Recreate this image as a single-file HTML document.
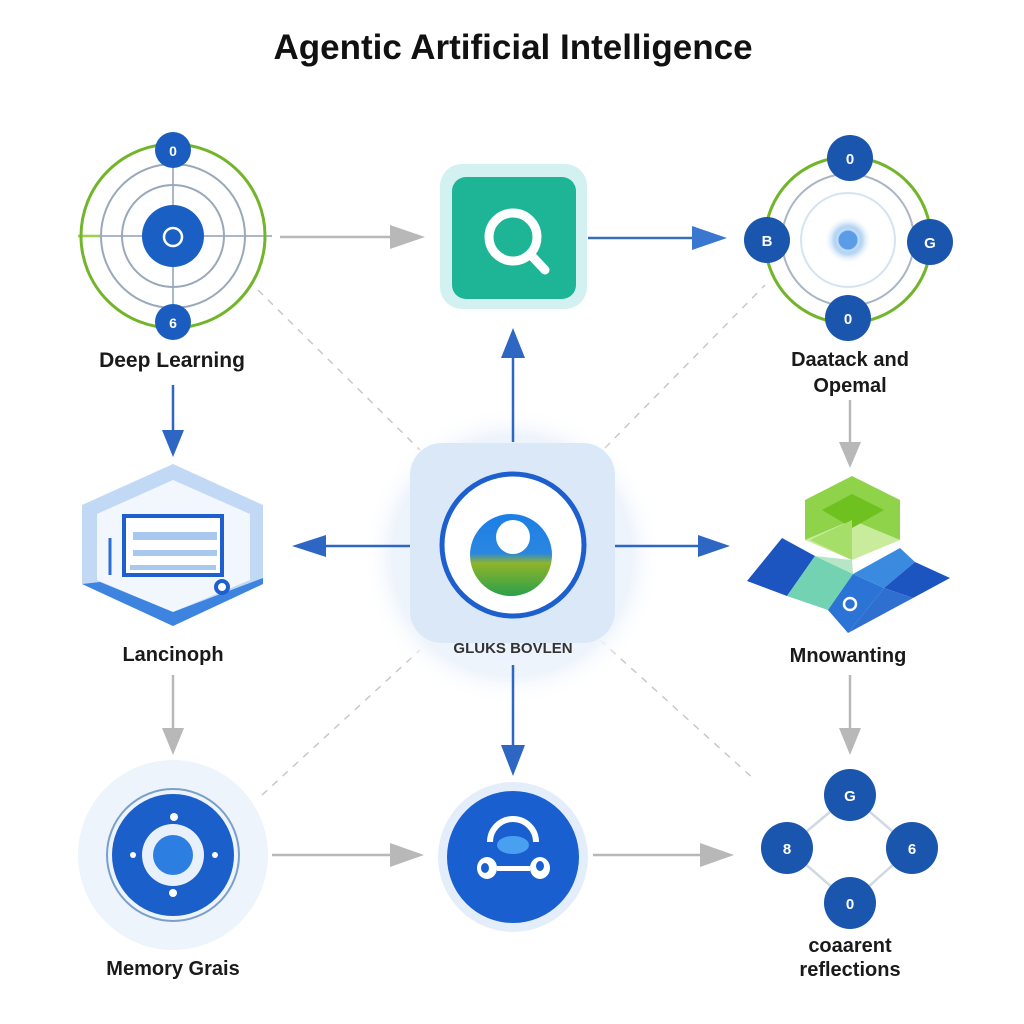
<!DOCTYPE html>
<html><head><meta charset="utf-8"><style>
html,body{margin:0;padding:0;background:#fff;}
svg{display:block;}
text{font-family:"Liberation Sans","DejaVu Sans",sans-serif;}
</style></head><body>
<svg width="1024" height="1024" viewBox="0 0 1024 1024" xmlns="http://www.w3.org/2000/svg">
<defs>
<radialGradient id="glow" cx="50%" cy="50%" r="50%">
<stop offset="0%" stop-color="#e6effb"/><stop offset="80%" stop-color="#eef4fc"/><stop offset="100%" stop-color="#ffffff" stop-opacity="0"/>
</radialGradient>
<linearGradient id="donut" x1="0" y1="0" x2="0" y2="1">
<stop offset="0%" stop-color="#1c7fe6"/><stop offset="48%" stop-color="#2a86e0"/><stop offset="60%" stop-color="#8fb42a"/><stop offset="100%" stop-color="#2aa04a"/>
</linearGradient>
<radialGradient id="cglow" cx="50%" cy="50%" r="50%">
<stop offset="0%" stop-color="#7fb6ee"/><stop offset="60%" stop-color="#b9d7f5"/><stop offset="100%" stop-color="#ffffff" stop-opacity="0"/>
</radialGradient>
</defs>
<rect width="1024" height="1024" fill="#fff"/>

<!-- Title -->
<text x="513" y="59" font-size="35" font-weight="bold" text-anchor="middle" fill="#111">Agentic Artificial Intelligence</text>

<!-- dashed diagonals -->
<g stroke="#c8c8c8" stroke-width="1.5" stroke-dasharray="7 7" fill="none">
<line x1="258" y1="290" x2="420" y2="450"/>
<line x1="605" y1="448" x2="765" y2="285"/>
<line x1="600" y1="640" x2="755" y2="780"/>
<line x1="262" y1="795" x2="420" y2="650"/>
</g>

<!-- Center glow -->
<circle cx="512" cy="556" r="150" fill="url(#glow)"/>

<!-- connectors -->
<g fill="none" stroke-width="2.5">
<line x1="280" y1="237" x2="395" y2="237" stroke="#b8b8b8"/>
<line x1="588" y1="238" x2="695" y2="238" stroke="#3a6db8"/>
<line x1="173" y1="385" x2="173" y2="432" stroke="#2e66c4"/>
<line x1="850" y1="400" x2="850" y2="445" stroke="#b8b8b8"/>
<line x1="513" y1="442" x2="513" y2="355" stroke="#2e66c4"/>
<line x1="410" y1="546" x2="322" y2="546" stroke="#2e66c4"/>
<line x1="615" y1="546" x2="700" y2="546" stroke="#2e66c4"/>
<line x1="513" y1="665" x2="513" y2="748" stroke="#2e66c4"/>
<line x1="173" y1="675" x2="173" y2="730" stroke="#b8b8b8"/>
<line x1="850" y1="675" x2="850" y2="730" stroke="#b8b8b8"/>
<line x1="272" y1="855" x2="392" y2="855" stroke="#b8b8b8"/>
<line x1="593" y1="855" x2="702" y2="855" stroke="#b8b8b8"/>
</g>
<!-- arrowheads -->
<polygon points="390,225 425,237 390,249" fill="#b8b8b8"/>
<polygon points="692,226 727,238 692,250" fill="#3a78d0"/>
<polygon points="162,430 184,430 173,457" fill="#2e66c4"/>
<polygon points="839,442 861,442 850,468" fill="#b8b8b8"/>
<polygon points="501,358 525,358 513,328" fill="#2e66c4"/>
<polygon points="326,535 326,557 292,546" fill="#2e66c4"/>
<polygon points="698,535 698,557 730,546" fill="#2e66c4"/>
<polygon points="501,745 525,745 513,776" fill="#2e66c4"/>
<polygon points="162,728 184,728 173,755" fill="#b8b8b8"/>
<polygon points="839,728 861,728 850,755" fill="#b8b8b8"/>
<polygon points="390,843 424,855 390,867" fill="#b8b8b8"/>
<polygon points="700,843 734,855 700,867" fill="#b8b8b8"/>

<!-- Deep Learning target -->
<g>
<line x1="78" y1="236" x2="272" y2="236" stroke="#a9b7c8" stroke-width="2"/>
<line x1="78" y1="236" x2="100" y2="236" stroke="#9ccf4a" stroke-width="2.5"/>
<line x1="173" y1="160" x2="173" y2="310" stroke="#a9b7c8" stroke-width="2"/>
<circle cx="173" cy="236" r="92" fill="none" stroke="#72b52a" stroke-width="3"/>
<circle cx="173" cy="236" r="72" fill="none" stroke="#9aa8ba" stroke-width="2"/>
<circle cx="173" cy="236" r="51" fill="none" stroke="#9aa8ba" stroke-width="2"/>
<circle cx="173" cy="236" r="31" fill="#1a5fc4"/>
<circle cx="173" cy="237" r="9" fill="none" stroke="#fff" stroke-width="2.5"/>
<circle cx="173" cy="150" r="18" fill="#1a5cbf"/>
<text x="173" y="156" font-size="14" font-weight="bold" fill="#fff" text-anchor="middle">0</text>
<circle cx="173" cy="322" r="18" fill="#1a5cbf"/>
<text x="173" y="328" font-size="14" font-weight="bold" fill="#fff" text-anchor="middle">6</text>
<text x="172" y="367" font-size="21" font-weight="bold" fill="#1a1a1a" text-anchor="middle">Deep Learning</text>
</g>

<!-- Search box -->
<rect x="440" y="164" width="147" height="145" rx="22" fill="#d4f1f1"/>
<rect x="452" y="177" width="124" height="122" rx="14" fill="#1db596"/>
<line x1="530" y1="254" x2="545" y2="270" stroke="#fff" stroke-width="9" stroke-linecap="round"/>
<circle cx="513" cy="237" r="24" fill="none" stroke="#fff" stroke-width="9"/>

<!-- Top-right orbit -->
<g>
<circle cx="848" cy="240" r="83" fill="none" stroke="#72b52a" stroke-width="3"/>
<circle cx="848" cy="240" r="66" fill="none" stroke="#a9b5c4" stroke-width="2"/>
<circle cx="848" cy="240" r="47" fill="none" stroke="#d6e3f1" stroke-width="2"/>
<circle cx="848" cy="240" r="24" fill="url(#cglow)"/>
<circle cx="848" cy="240" r="11" fill="#5a9de6" stroke="#bcd8f6" stroke-width="3"/>
<circle cx="850" cy="158" r="23" fill="#1a56ad"/>
<text x="850" y="164" font-size="15" font-weight="bold" fill="#fff" text-anchor="middle">0</text>
<circle cx="767" cy="240" r="23" fill="#1a56ad"/>
<text x="767" y="246" font-size="15" font-weight="bold" fill="#fff" text-anchor="middle">B</text>
<circle cx="930" cy="242" r="23" fill="#1a56ad"/>
<text x="930" y="248" font-size="15" font-weight="bold" fill="#fff" text-anchor="middle">G</text>
<circle cx="848" cy="318" r="23" fill="#1a56ad"/>
<text x="848" y="324" font-size="15" font-weight="bold" fill="#fff" text-anchor="middle">0</text>
<text x="850" y="366" font-size="20" font-weight="bold" fill="#1a1a1a" text-anchor="middle">Daatack and</text>
<text x="850" y="392" font-size="20" font-weight="bold" fill="#1a1a1a" text-anchor="middle">Opemal</text>
</g>

<!-- Hexagon -->
<g>
<polygon points="173,464 263,505 263,584 173,626 82,584 82,505" fill="#c2d9f6"/>
<polygon points="173,480 250,514 250,580 173,612 97,580 97,514" fill="#f2f7fd"/>
<polygon points="82,584 173,626 263,584 263,578 173,612 100,582" fill="#3c84e0"/>
<rect x="124" y="516" width="98" height="59" fill="#fff" stroke="#1e5fd0" stroke-width="4"/>
<rect x="133" y="532" width="84" height="8" fill="#a9c8f0"/>
<rect x="133" y="550" width="84" height="6" fill="#a9c8f0"/>
<rect x="130" y="565" width="86" height="5" fill="#a9c8f0"/>
<line x1="110" y1="538" x2="110" y2="575" stroke="#2e6ed8" stroke-width="3"/>
<circle cx="222" cy="587" r="6" fill="#fff" stroke="#1e5fd0" stroke-width="4"/>
<text x="173" y="661" font-size="20" font-weight="bold" fill="#1a1a1a" text-anchor="middle">Lancinoph</text>
</g>

<!-- Center node -->
<g>
<rect x="410" y="443" width="205" height="200" rx="32" fill="#dbe8f8"/>
<circle cx="513" cy="545" r="71" fill="#fff" stroke="#1d5fcf" stroke-width="5"/>
<circle cx="511" cy="555" r="41" fill="url(#donut)"/>
<circle cx="513" cy="537" r="17" fill="#fff"/>
<text x="513" y="653" font-size="15" font-weight="bold" fill="#333" text-anchor="middle">GLUKS BOVLEN</text>
</g>

<!-- Isometric shape -->
<g>
<polygon points="805,540 852,520 900,540 852,560" fill="#c9ec9c"/>
<polygon points="805,500 852,476 900,500 900,540 852,520 805,540" fill="#8fd34a"/>
<polygon points="822,510 852,494 884,510 852,528" fill="#6ec11e"/>
<polygon points="852,520 852,560 810,540" fill="#a6de6a"/>
<polygon points="747,581 782,538 815,556 787,596" fill="#1d55c0"/>
<polygon points="787,596 815,556 853,574 828,610" fill="#73d2b2"/>
<polygon points="815,556 852,560 853,574" fill="#b6e6c6"/>
<polygon points="828,610 853,574 884,588 848,633" fill="#2b73d4"/>
<polygon points="853,574 900,548 915,562 884,588" fill="#3a8ae0"/>
<polygon points="884,588 915,562 950,578 913,598" fill="#1d55c0"/>
<polygon points="884,588 913,598 848,633" fill="#2f6fd0"/>
<circle cx="850" cy="604" r="6" fill="none" stroke="#fff" stroke-width="2.5"/>
<text x="848" y="662" font-size="20" font-weight="bold" fill="#1a1a1a" text-anchor="middle">Mnowanting</text>
</g>

<!-- Memory -->
<g>
<circle cx="173" cy="855" r="95" fill="#edf4fc"/>
<circle cx="173" cy="855" r="66" fill="none" stroke="#7b9fcc" stroke-width="2"/>
<circle cx="173" cy="855" r="61" fill="#1a5fca"/>
<circle cx="173" cy="855" r="31" fill="#e8f0fb"/>
<circle cx="173" cy="855" r="20" fill="#2c7fe0"/>
<circle cx="174" cy="817" r="4" fill="#fff"/>
<circle cx="173" cy="893" r="4" fill="#fff"/>
<circle cx="133" cy="855" r="3" fill="#fff"/>
<circle cx="215" cy="855" r="3" fill="#fff"/>
<text x="173" y="975" font-size="20" font-weight="bold" fill="#1a1a1a" text-anchor="middle">Memory Grais</text>
</g>

<!-- Bottom center -->
<g>
<circle cx="513" cy="857" r="75" fill="#e4eefb"/>
<circle cx="513" cy="857" r="66" fill="#1a5fcf"/>
<path d="M490,842 A23,23 0 0 1 536,842" fill="none" stroke="#fff" stroke-width="6"/>
<ellipse cx="513" cy="845" rx="16" ry="9" fill="#4aa0f0"/>
<ellipse cx="487" cy="868" rx="10" ry="11" fill="#fff"/>
<ellipse cx="485" cy="868" rx="4" ry="5" fill="#1a5fcf"/>
<ellipse cx="540" cy="868" rx="10" ry="11" fill="#fff"/>
<ellipse cx="540" cy="866" rx="4" ry="5" fill="#1a5fcf"/>
<rect x="497" y="866" width="33" height="5" fill="#fff"/>
</g>

<!-- Bottom right diamond -->
<g>
<g stroke="#d0d8e2" stroke-width="2.5">
<line x1="850" y1="795" x2="787" y2="848"/>
<line x1="850" y1="795" x2="912" y2="848"/>
<line x1="787" y1="848" x2="850" y2="903"/>
<line x1="912" y1="848" x2="850" y2="903"/>
</g>
<circle cx="850" cy="795" r="26" fill="#1a56ad"/>
<text x="850" y="801" font-size="15" font-weight="bold" fill="#fff" text-anchor="middle">G</text>
<circle cx="787" cy="848" r="26" fill="#1a56ad"/>
<text x="787" y="854" font-size="15" font-weight="bold" fill="#fff" text-anchor="middle">8</text>
<circle cx="912" cy="848" r="26" fill="#1a56ad"/>
<text x="912" y="854" font-size="15" font-weight="bold" fill="#fff" text-anchor="middle">6</text>
<circle cx="850" cy="903" r="26" fill="#1a56ad"/>
<text x="850" y="909" font-size="15" font-weight="bold" fill="#fff" text-anchor="middle">0</text>
<text x="850" y="952" font-size="20" font-weight="bold" fill="#1a1a1a" text-anchor="middle">coaarent</text>
<text x="850" y="976" font-size="20" font-weight="bold" fill="#1a1a1a" text-anchor="middle">reflections</text>
</g>
</svg>
</body></html>
